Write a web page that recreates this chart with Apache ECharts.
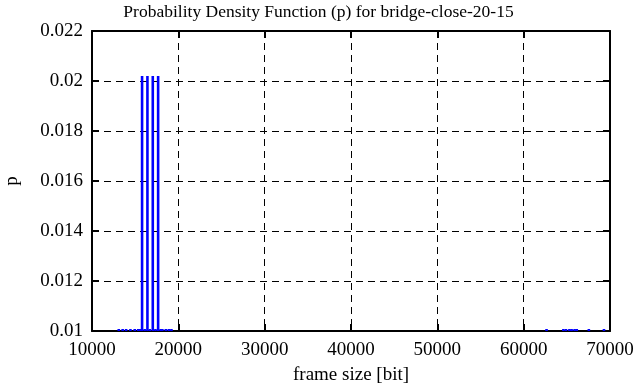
<!DOCTYPE html>
<html><head><meta charset="utf-8">
<script src="https://cdn.jsdelivr.net/npm/echarts@6/dist/echarts.min.js"></script>
<style>html,body{margin:0;padding:0;background:#fff}#c{width:637px;height:387px}</style>
</head><body><div id="c"></div>
<script>
var frameSizes = [13100, 13550, 13950, 14450, 14950, 15350, 15550, 15800, 16100, 16420, 16700, 17040, 17350, 17660, 17950, 18150, 18550, 18900, 19200,
                  62650, 64600, 64900, 65300, 65550, 65900, 66150, 67550, 69300];
var probs = [0.01008, 0.01008, 0.01008, 0.01008, 0.01008, 0.01008, 0.01008, 0.0202, 0.01008, 0.0202, 0.01008, 0.0202, 0.01008, 0.0202, 0.01008, 0.01008, 0.01008, 0.01008, 0.01008,
             0.01008, 0.01008, 0.01008, 0.01008, 0.01008, 0.01008, 0.01008, 0.01008, 0.01008];
var xTicks = [10000, 20000, 30000, 40000, 50000, 60000, 70000];
var yTicks = [0.01, 0.012, 0.014, 0.016, 0.018, 0.02, 0.022];

var F = 'Liberation Serif';
var data = frameSizes.map(function (x, i) { return [x, probs[i]]; });
var chart = echarts.init(document.getElementById('c'));
var gridLine = { show: true, lineStyle: { color: '#000', type: [7, 5], width: 1 } };
chart.setOption({
  animation: false,
  title: { text: 'Probability Density Function (p) for bridge-close-20-15', left: 'center', top: -2,
    textStyle: { fontFamily: F, fontSize: 17.5, fontWeight: 'normal', color: '#000' } },
  grid: { left: 92, right: 27, top: 31, bottom: 56, outerBoundsMode: 'none', containLabel: false },
  xAxis: [{
    type: 'value', min: xTicks[0], max: xTicks[xTicks.length - 1], interval: 10000,
    name: 'frame size [bit]', nameLocation: 'middle', nameGap: 35,
    nameTextStyle: { fontFamily: F, fontSize: 19, color: '#000' },
    axisLine: { lineStyle: { color: '#000', width: 2 } },
    axisTick: { inside: true, length: 7, lineStyle: { color: '#000', width: 2 } },
    axisLabel: { fontFamily: F, fontSize: 19, color: '#000', margin: 10,
      formatter: function (v) { return String(v); } },
    splitLine: gridLine
  }, {
    type: 'value', position: 'top', min: xTicks[0], max: xTicks[xTicks.length - 1], interval: 10000,
    axisLine: { show: true, lineStyle: { color: '#000', width: 2 } },
    axisTick: { inside: true, length: 7, lineStyle: { color: '#000', width: 2 } },
    axisLabel: { show: false }, splitLine: { show: false }
  }],
  yAxis: [{
    type: 'value', min: yTicks[0], max: yTicks[yTicks.length - 1], interval: 0.002,
    name: 'p', nameLocation: 'middle', nameGap: 70, nameRotate: 90,
    nameTextStyle: { fontFamily: F, fontSize: 19, color: '#000' },
    axisLine: { show: true, lineStyle: { color: '#000', width: 2 } },
    axisTick: { show: true, inside: true, length: 7, lineStyle: { color: '#000', width: 2 } },
    axisLabel: { fontFamily: F, fontSize: 19, color: '#000', margin: 9,
      formatter: function (v) { return String(+v.toFixed(3)); } },
    splitLine: gridLine
  }, {
    type: 'value', position: 'right', min: yTicks[0], max: yTicks[yTicks.length - 1], interval: 0.002,
    axisLine: { show: true, lineStyle: { color: '#000', width: 2 } },
    axisTick: { show: true, inside: true, length: 7, lineStyle: { color: '#000', width: 2 } },
    axisLabel: { show: false }, splitLine: { show: false }
  }],
  series: [{
    type: 'bar', data: data, barWidth: 2.6, z: 10,
    itemStyle: { color: '#0000ff' }
  }]
});
</script></body></html>
